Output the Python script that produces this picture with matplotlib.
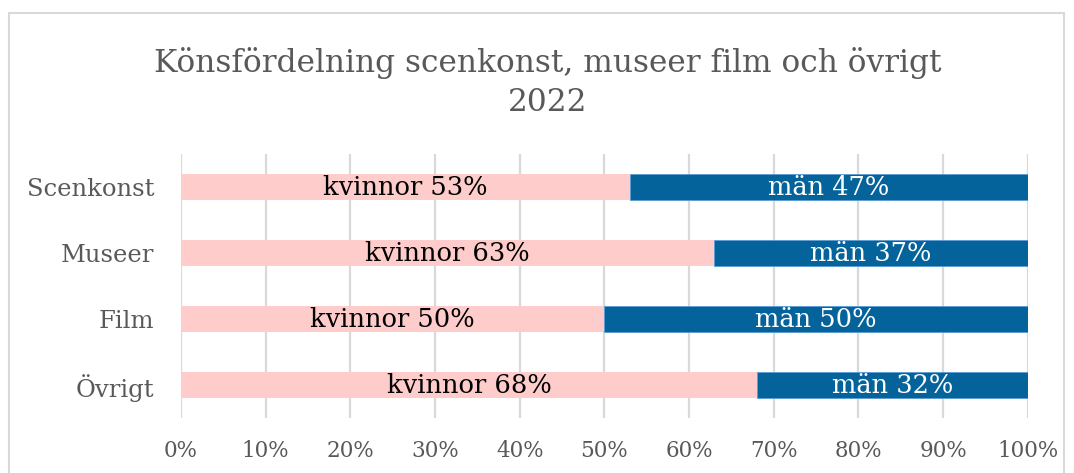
import matplotlib.pyplot as plt
from matplotlib.patches import Rectangle
from matplotlib.ticker import MultipleLocator, PercentFormatter

# DATA ------------------------------------------------------------------------ #
categories = ["Scenkonst", "Museer", "Film", "Övrigt"]
kvinnor = [53, 63, 50, 68]
man = [47, 37, 50, 32]
title = "Könsfördelning scenkonst, museer film och övrigt\n2022"

# STYLE ----------------------------------------------------------------------- #
PINK = "#FFCCCC"
BLUE = "#03639A"
GREY_TEXT = "#595959"
GRID = "#D9D9D9"
FONT = "DejaVu Serif"

plt.rcParams["font.family"] = FONT

fig = plt.figure(figsize=(10.74, 4.73), dpi=100)
ax = fig.add_axes([0.1685, 0.116, 0.7885, 0.558])

# chart area border
fig.patches.append(Rectangle((9 / 1074, -0.05), 1055 / 1074, 1.0 - 13 / 473 + 0.05,
                             transform=fig.transFigure, fill=False,
                             edgecolor="#D9D9D9", linewidth=1.5))

y = list(range(len(categories)))
ax.barh(y, kvinnor, height=0.4, color=PINK, zorder=2)
ax.barh(y, man, left=kvinnor, height=0.4, color=BLUE,
        edgecolor="#5B9BD5", linewidth=0.6, zorder=2)

for i, (k, m) in enumerate(zip(kvinnor, man)):
    ax.text(k / 2, i, f"kvinnor {k}%", ha="center", va="center",
            fontsize=18.5, color="black", zorder=3)
    ax.text(k + m / 2, i, f"män {m}%", ha="center", va="center",
            fontsize=18.5, color="white", zorder=3)

ax.set_xlim(0, 100)
ax.set_ylim(len(categories) - 0.5, -0.5)
ax.set_yticks(y)
ax.set_yticklabels(categories, fontsize=17.5)
ax.xaxis.set_major_locator(MultipleLocator(10))
ax.xaxis.set_major_formatter(PercentFormatter(decimals=0))
ax.tick_params(axis="both", length=0, colors=GREY_TEXT)
ax.tick_params(axis="x", pad=16, labelsize=15.5)
ax.tick_params(axis="y", pad=19)
ax.grid(axis="x", color=GRID, linewidth=1.6, zorder=0)
for spine in ax.spines.values():
    spine.set_visible(False)

fig.text(0.51, 0.826, title, ha="center", va="center", fontsize=22.5,
         color=GREY_TEXT, linespacing=1.32)

fig.savefig("out.png", dpi=100)
